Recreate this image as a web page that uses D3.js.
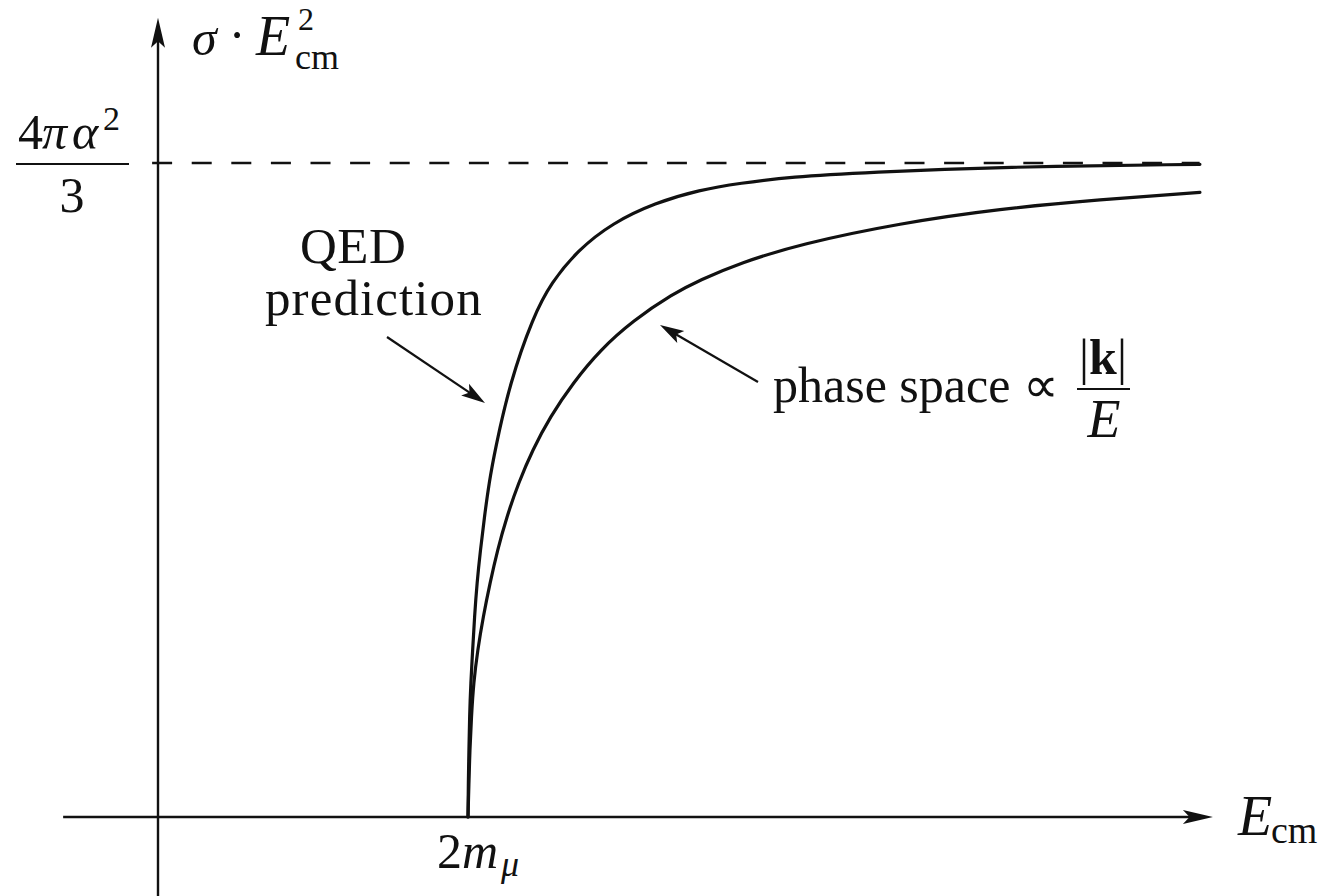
<!DOCTYPE html>
<html>
<head>
<meta charset="utf-8">
<script src="https://cdn.jsdelivr.net/npm/d3@7"></script>
<style>
  html, body { margin: 0; padding: 0; background: #fff; }
  svg text { font-family: "Liberation Serif", "Times New Roman", serif; fill: #111; }
</style>
</head>
<body>
<svg id="chart" width="1325" height="896"></svg>
<script>
// Centre-of-mass energy in units of the muon pair threshold 2m_mu,
// cross section times E_cm^2 in units of 4πα²/3.
const qedEnergy = [1.000, 1.001, 1.003, 1.005, 1.009, 1.015, 1.021, 1.029, 1.040, 1.053, 1.068, 1.087,
                   1.135, 1.210, 1.268, 1.355, 1.465, 1.603, 1.748, 1.877, 2.039, 2.297, 2.716, 3.361];
const qedSigma  = [0.000, 0.052, 0.102, 0.153, 0.205, 0.255, 0.306, 0.358, 0.408, 0.459, 0.511, 0.561,
                   0.664, 0.765, 0.817, 0.867, 0.908, 0.939, 0.959, 0.969, 0.979, 0.986, 0.994, 0.998];

const phaseEnergy = [1.000, 1.003, 1.006, 1.011, 1.018, 1.031, 1.049, 1.071, 1.095, 1.125, 1.163,
                     1.208, 1.265, 1.339, 1.426, 1.532, 1.661, 1.748, 1.877, 2.071, 2.394, 2.716, 3.039, 3.361];
const phaseSigma  = [0.000, 0.052, 0.102, 0.153, 0.205, 0.255, 0.306, 0.358, 0.408, 0.459, 0.511,
                     0.561, 0.612, 0.664, 0.714, 0.759, 0.800, 0.821, 0.847, 0.876, 0.908, 0.930, 0.944, 0.955];

const thresholdEnergy = 1;   // 2m_mu
const asymptoteSigma = 1;    // 4πα²/3
const axisEnergyRange = [-0.306, 3.403];
const axisSigmaRange = [-0.121, 1.222];
const dashEnergyRange = [-0.019, 3.36];

const svg = d3.select("#chart");

const x = d3.scaleLinear().domain([0, 1]).range([158, 468]);
const y = d3.scaleLinear().domain([0, 1]).range([817, 163]);

const ink = "#111";

// Filled arrow tip pointing along the segment (x1,y1) -> (x2,y2)
function arrowHead(x1, y1, x2, y2, len, half) {
  const a = Math.atan2(y2 - y1, x2 - x1) * 180 / Math.PI;
  svg.append("path")
    .attr("d", `M0,0 L${-len},${-half} L${-len * 0.78},0 L${-len},${half} Z`)
    .attr("transform", `translate(${x2},${y2}) rotate(${a})`)
    .attr("fill", ink);
}

function arrow(x1, y1, x2, y2, len, half, width) {
  const a = Math.atan2(y2 - y1, x2 - x1);
  svg.append("line")
    .attr("x1", x1).attr("y1", y1)
    .attr("x2", x2 - Math.cos(a) * len * 0.7).attr("y2", y2 - Math.sin(a) * len * 0.7)
    .attr("stroke", ink).attr("stroke-width", width);
  arrowHead(x1, y1, x2, y2, len, half);
}

// Axes
arrow(x(axisEnergyRange[0]), y(0), x(axisEnergyRange[1]), y(0), 30, 7, 2.4);
arrow(x(0), y(axisSigmaRange[0]), x(0), y(axisSigmaRange[1]), 30, 7, 2.4);

// Asymptote 4πα²/3
svg.append("line")
  .attr("x1", x(dashEnergyRange[0])).attr("x2", x(dashEnergyRange[1]))
  .attr("y1", y(asymptoteSigma)).attr("y2", y(asymptoteSigma))
  .attr("stroke", ink).attr("stroke-width", 2.6)
  .attr("stroke-dasharray", "20 19.6");

// Curves (B-spline through the sampled points for a smooth stroke)
const line = d3.line()
  .x(d => x(d[0]))
  .y(d => y(d[1]))
  .curve(d3.curveBasis);

const qed = qedEnergy.map((e, i) => [e, qedSigma[i]]);
const phase = phaseEnergy.map((e, i) => [e, phaseSigma[i]]);

[qed, phase].forEach(series => {
  svg.append("path")
    .attr("d", line(series))
    .attr("fill", "none")
    .attr("stroke", ink)
    .attr("stroke-width", 3.2)
    .attr("stroke-linejoin", "round")
    .attr("stroke-linecap", "round");
});

// Text helpers
function label(tx, ty, str, size, opts = {}) {
  const t = svg.append("text")
    .attr("x", tx).attr("y", ty)
    .attr("font-size", size)
    .text(str);
  if (opts.italic) t.attr("font-style", "italic");
  if (opts.bold) t.attr("font-weight", "bold");
  if (opts.anchor) t.attr("text-anchor", opts.anchor);
  if (opts.spacing) t.attr("letter-spacing", opts.spacing);
  return t;
}

// y-axis title: σ · E_cm^2
label(192, 55, "σ", 50, { italic: true });
label(237, 52, "·", 50, { anchor: "middle" });
label(256, 55, "E", 56, { italic: true });
label(298, 29.5, "2", 32);
label(295, 69, "cm", 36);

// Asymptote value 4πα²/3
const yA = y(asymptoteSigma);
label(18, yA - 14, "4", 50);
label(42, yA - 14, "π", 50, { italic: true });
label(72, yA - 14, "α", 50, { italic: true });
label(103, yA - 33, "2", 34);
svg.append("line")
  .attr("x1", 16).attr("x2", 129)
  .attr("y1", yA + 1).attr("y2", yA + 1)
  .attr("stroke", ink).attr("stroke-width", 2);
label(72, yA + 49, "3", 50, { anchor: "middle" });

// Threshold label 2m_mu
const xT = x(thresholdEnergy);
const tl = svg.append("text").attr("x", xT - 31).attr("y", 868).attr("font-size", 50);
tl.append("tspan").text("2");
tl.append("tspan").attr("font-style", "italic").text("m");
tl.append("tspan").attr("font-style", "italic").attr("font-size", 36).attr("dy", 8).attr("dx", 3).text("μ");

// x-axis title E_cm
label(1238, 835, "E", 56, { italic: true });
label(1271, 843, "cm", 38);

// QED annotation
label(300, 263, "QED", 51, { spacing: 0.5 });
label(265, 315, "prediction", 51, { spacing: 1.1 });
arrow(387, 337, 485, 403, 24, 7, 2.2);

// Phase space annotation
label(773, 402, "phase space ∝", 50);
const kl = svg.append("text").attr("x", 1103).attr("y", 374).attr("font-size", 50).attr("text-anchor", "middle");
kl.append("tspan").text("|");
kl.append("tspan").attr("font-weight", "bold").text("k");
kl.append("tspan").text("|");
svg.append("line")
  .attr("x1", 1077).attr("x2", 1130)
  .attr("y1", 389).attr("y2", 389)
  .attr("stroke", ink).attr("stroke-width", 2);
label(1104, 437, "E", 54, { italic: true, anchor: "middle" });
arrow(758, 382, 660, 325, 24, 7, 2.2);
</script>
</body>
</html>
